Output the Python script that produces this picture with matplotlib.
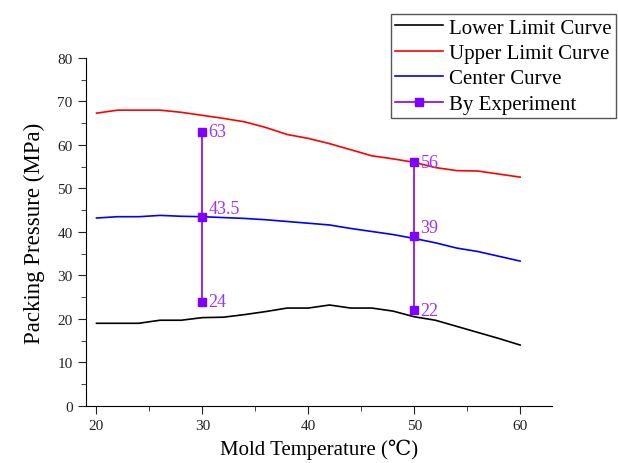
import matplotlib
matplotlib.use("Agg")
import matplotlib.pyplot as plt
from matplotlib.ticker import MultipleLocator

plt.rcParams["font.family"] = ["Liberation Serif", "DejaVu Serif"]

temps = [20, 22, 24, 26, 28, 30, 32, 34, 36, 38, 40, 42, 44, 46, 48, 50, 52, 54, 56, 58, 60]
lower = [19, 19, 19, 19.7, 19.7, 20.3, 20.4, 21, 21.7, 22.5, 22.5, 23.2, 22.5, 22.5, 21.8,
         20.5, 19.7, 18.3, 16.9, 15.5, 14]
upper = [67.3, 68, 68, 68, 67.5, 66.8, 66.1, 65.3, 64, 62.4, 61.5, 60.3, 58.9, 57.5, 56.8,
         56, 54.8, 54.1, 54, 53.3, 52.6]
center = [43.2, 43.5, 43.5, 43.8, 43.6, 43.5, 43.3, 43.1, 42.8, 42.4, 42, 41.6, 40.8, 40.1,
          39.4, 38.5, 37.5, 36.3, 35.5, 34.4, 33.3]

exp_temps = [30, 50]
exp_values = [[63, 43.5, 24], [56, 39, 22]]
exp_labels = [["63", "43.5", "24"], ["56", "39", "22"]]

purple = "#8000ff"

fig = plt.figure(figsize=(6.18, 4.64), dpi=100)
ax = fig.add_axes([0.139, 0.123, 0.754, 0.75])

ax.plot(temps, lower, color="black", lw=1.2, label="Lower Limit Curve")
ax.plot(temps, upper, color="red", lw=1.2, label="Upper Limit Curve")
ax.plot(temps, center, color="#0000ff", lw=1.2, label="Center Curve")

for i, (t, vals) in enumerate(zip(exp_temps, exp_values)):
    ax.plot([t] * len(vals), vals, color=purple, lw=1.2, marker="s", ms=6,
            label="By Experiment" if i == 0 else None)
    for v, lab in zip(vals, exp_labels[i]):
        dy = 2.0 if lab in ("43.5", "39") else 0
        ax.text(t + 0.6, v + dy, lab, color="#9933ff", fontsize=13,
                ha="left", va="center")

ax.set_xlim(19, 63)
ax.set_ylim(0, 80)
ax.xaxis.set_major_locator(MultipleLocator(10))
ax.xaxis.set_minor_locator(MultipleLocator(5))
ax.yaxis.set_major_locator(MultipleLocator(10))
ax.yaxis.set_minor_locator(MultipleLocator(5))
ax.tick_params(which="both", direction="out", labelsize=11, colors="#222222")
ax.tick_params(which="major", length=6)
ax.tick_params(which="minor", length=3.5)
ax.spines["top"].set_visible(False)
ax.spines["right"].set_visible(False)

ax.set_xlabel("Mold Temperature (℃)", fontsize=15, labelpad=5)
ax.set_ylabel("Packing Pressure (MPa)", fontsize=16.5, labelpad=9)

fig.legend(loc="upper right", bbox_to_anchor=(0.997, 0.968), fontsize=15,
           frameon=True, fancybox=False, edgecolor="#555555", framealpha=1,
           handlelength=2.3, handletextpad=0.3, labelspacing=0.28,
           borderpad=0.2, borderaxespad=0)

fig.savefig("out.png", dpi=100)
